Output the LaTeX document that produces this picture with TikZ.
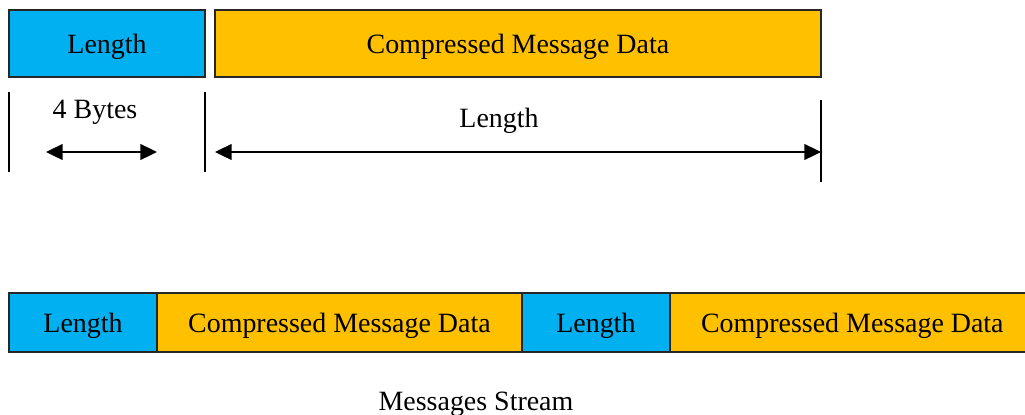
\documentclass[tikz,border=0pt]{standalone}
\usepackage{fontspec}
\setmainfont{Liberation Serif}
\usetikzlibrary{arrows.meta}
\usetikzlibrary{positioning}
\definecolor{lenblue}{HTML}{00B0F0}
\definecolor{dataorange}{HTML}{FFC000}
\tikzset{
>={Triangle[length=9.5pt,width=9pt]}, % solid arrow heads
every node/.style={font=\fontsize{15.9}{19}\selectfont, inner sep=0pt, outer sep=0pt, text height=11.5pt, text depth=0pt},
field/.style={draw=black!85, line width=0.8pt, minimum height=1.34cm}, % a field of a message
lenfield/.style={field, fill=lenblue},
datafield/.style={field, fill=dataorange},
tick/.style={line width=0.8pt}, % the marks that bound a measure
measure/.style={<->, line width=1.1pt},
}

\begin{document}
\begin{tikzpicture}[x=0.02cm, y=-0.02cm]
            \useasboundingbox (0,0) rectangle (1025,414);

            % one message
            \node[lenfield, minimum width=3.92cm] (len) at (107,43.5) {Length};
            \node[datafield, minimum width=12.12cm, right=0.2cm of len] (data) {Compressed Message Data};

            \coordinate (t0a) at (9,92);    \coordinate (t0b) at (9,172);
            \coordinate (t1a) at (205,92);  \coordinate (t1b) at (205,172);
            \coordinate (t2a) at (821,100); \coordinate (t2b) at (821,182);
            \draw[tick] (t0a) -- (t0b);
            \draw[tick] (t1a) -- (t1b);
            \draw[tick] (t2a) -- (t2b);

            \node (bytes) at (95,108) {4 Bytes};
            \coordinate (b0) at (46,152);  \coordinate (b1) at (157,152);
            \draw[measure] (b0) -- (b1);

            \node (lenlabel) at (499,117) {Length};
            \coordinate (d0) at (215,152); \coordinate (d1) at (821,152);
            \draw[measure] (d0) -- (d1);

            % the stream
            \node[lenfield, minimum height=1.18cm, minimum width=2.96cm] (slen1) at (83,322.5) {Length};
            \node[datafield, minimum height=1.18cm, minimum width=7.3cm, right=0pt of slen1] (sdata1) {Compressed Message Data};
            \node[lenfield, minimum height=1.18cm, minimum width=2.96cm, right=0pt of sdata1] (slen2) {Length};
            \node[datafield, minimum height=1.18cm, minimum width=7.3cm, right=0pt of slen2] (sdata2) {Compressed Message Data};

            \node (stream) at (476,400.5) {Messages Stream};
        \end{tikzpicture}
\end{document}
